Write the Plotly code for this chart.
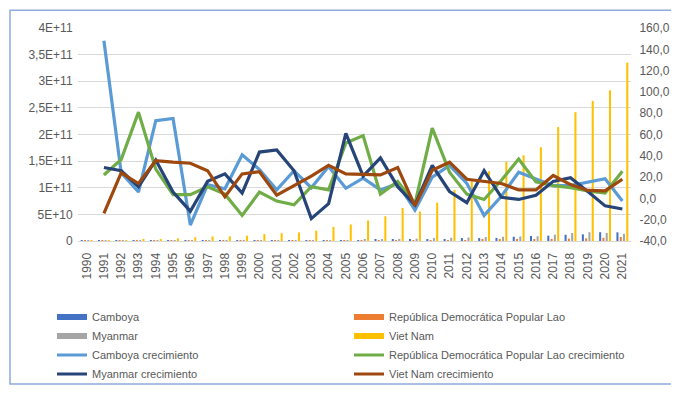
import plotly.graph_objects as go

years = [str(y) for y in range(1990, 2022)]

# Bar values (left axis), in units of 1e9
camboya = [0.2, 0.3, 0.3, 0.4, 0.5, 0.6, 0.6, 0.6, 0.6, 0.7, 0.7, 0.8, 0.9, 1.0, 1.2, 1.5,
           1.8, 2.3, 2.6, 2.5, 3.2, 3.8, 5.5, 5.5, 5.8, 8.0, 9.5, 10.0, 11.7, 12.5, 16.5, 16.3]
lao = [0.1, 0.1, 0.1, 0.1, 0.1, 0.1, 0.2, 0.2, 0.2, 0.2, 0.2, 0.2, 0.3, 0.3, 0.4, 0.5,
       0.6, 0.8, 1.0, 1.0, 1.2, 1.5, 1.8, 2.0, 2.5, 3.0, 3.0, 4.0, 4.5, 5.0, 6.0, 7.5]
myanmar = [0.1, 0.1, 0.1, 0.1, 0.2, 0.2, 0.2, 0.3, 0.3, 0.3, 0.4, 0.5, 1.0, 1.2, 1.5, 1.8,
           2.5, 3.5, 4.0, 4.5, 5.5, 6.0, 6.5, 7.5, 8.0, 8.5, 9.0, 12.0, 15.0, 16.5, 15.0, 13.5]
vietnam = [1.0, 1.2, 1.5, 2.5, 3.8, 5.0, 7.0, 8.5, 8.7, 10.0, 13.0, 14.8, 16.0, 19.5, 26.5, 31.0,
           38.5, 46.5, 62.0, 55.5, 72.0, 96.0, 112.0, 131.0, 149.0, 161.0, 176.0, 214.0, 242.0, 263.0, 283.0, 335.0]
BAR_UNIT = 1e9

# Growth lines (right axis)
camboya_crec = [None, 148, 24, 6, 73, 75, -25, 13, 9, 41, 27, 8, 26, 10, 30, 9.5,
                19, 8, 14, -11, 20, 31, 14, -16, 2, 24.5, 18, 12, 12, 15.5, 18.5, -2.5]
lao_crec = [None, 22, 36.5, 81, 27.5, 3.5, 3.5, 11, 4, -16, 6, -2.5, -6, 11, 8, 52,
            59, 4, 16, -5, 66, 24.5, 4, -1, 17, 37, 15.5, 12, 10, 7, 5, 25.5]
myanmar_crec = [None, 29, 26, 11, 36, 6, -12, 16, 23, 5, 43.5, 45.5, 26, -19, -5, 61,
                21, 38, 11, -6, 31, 6.5, -4, 26, 1, -1, 3, 16, 19.5, 6.5, -7, -10]
vietnam_crec = [None, -14, 24, 14, 35.5, 34, 33, 26, 1.5, 23, 25, 3, 12, 21, 31, 23,
                22.5, 22, 29, -7, 26.5, 34, 18, 16, 14, 8, 8, 21.5, 13, 7.5, 7, 18]

left_ticks = [0, 5e10, 1e11, 1.5e11, 2e11, 2.5e11, 3e11, 3.5e11, 4e11]
left_text = ["0", "5E+10", "1E+11", "1,5E+11", "2E+11", "2,5E+11", "3E+11", "3,5E+11", "4E+11"]
right_ticks = [-40, -20, 0, 20, 40, 60, 80, 100, 120, 140, 160]
right_text = ["-40,0", "-20,0", "0,0", "20,0", "40,0", "60,0", "80,0", "100,0", "120,0", "140,0", "160,0"]

names_bar = ["Camboya", "República Democrática Popular Lao", "Myanmar", "Viet Nam"]
bar_colors = ["#4472C4", "#ED7D31", "#A5A5A5", "#FFC000"]
names_line = ["Camboya crecimiento", "República Democrática Popular Lao crecimiento",
              "Myanmar crecimiento", "Viet Nam crecimiento"]
line_colors = ["#5B9BD5", "#70AD47", "#264478", "#9E480E"]

W, H = 679, 393
ML, MR, MT, MB = 70, 56, 20, 151
PW, PH = W - ML - MR, H - MT - MB

fig = go.Figure()
for name, vals, col in zip(names_bar, [camboya, lao, myanmar, vietnam], bar_colors):
    fig.add_trace(go.Bar(x=years, y=[v * BAR_UNIT for v in vals], name=name,
                         marker=dict(color=col, line=dict(width=0)), showlegend=False,
                         yaxis="y"))

for name, vals, col in zip(names_line, [camboya_crec, lao_crec, myanmar_crec, vietnam_crec], line_colors):
    fig.add_trace(go.Scatter(x=years, y=vals, name=name, mode="lines",
                             line=dict(color=col, width=3.2), yaxis="y2", showlegend=False))

# legend entries (Excel-style wide markers)
legend_of = {0: "legend", 1: "legend2", 2: "legend", 3: "legend2"}
for i, (name, col) in enumerate(zip(names_bar, bar_colors)):
    fig.add_trace(go.Scatter(x=[None], y=[None], name=name, mode="lines",
                             line=dict(color=col, width=6), legend=legend_of[i], yaxis="y2"))
for i, (name, col) in enumerate(zip(names_line, line_colors)):
    fig.add_trace(go.Scatter(x=[None], y=[None], name=name, mode="lines",
                             line=dict(color=col, width=3), legend=legend_of[i], yaxis="y2"))

font_col = "#595959"
leg_common = dict(orientation="v", xanchor="left", yanchor="top", bgcolor="rgba(0,0,0,0)",
                  tracegroupgap=0, font=dict(family="Liberation Sans", size=11, color=font_col),
                  itemwidth=30)

def px_to_paper_x(px):
    return (px - ML) / PW

def px_to_paper_y(py):
    return (H - MB - py) / PH

fig.update_layout(
    width=W, height=H,
    margin=dict(l=ML, r=MR, t=MT, b=MB, pad=0),
    paper_bgcolor="white", plot_bgcolor="white",
    barmode="group", bargap=0.24, bargroupgap=0.38,
    font=dict(family="Liberation Sans", size=12, color=font_col),
    xaxis=dict(type="category", tickangle=-90, showgrid=False, showline=True,
               linecolor="#D9D9D9", linewidth=1, ticks="outside", ticklen=6,
               tickcolor="rgba(0,0,0,0)", tickfont=dict(size=12, color=font_col)),
    yaxis=dict(range=[0, 4e11], tickvals=left_ticks, ticktext=left_text, showgrid=True,
               gridcolor="#D9D9D9", gridwidth=1, zeroline=False, showline=False,
               ticks="outside", ticklen=2, tickcolor="rgba(0,0,0,0)",
               tickfont=dict(size=12, color=font_col)),
    yaxis2=dict(range=[-40, 160], tickvals=right_ticks, ticktext=right_text, overlaying="y",
                side="right", showgrid=False, zeroline=False, showline=False,
                ticks="outside", ticklen=5, tickcolor="rgba(0,0,0,0)",
                tickfont=dict(size=12, color=font_col)),
    legend=dict(x=px_to_paper_x(44), y=px_to_paper_y(306), **leg_common),
    legend2=dict(x=px_to_paper_x(341), y=px_to_paper_y(306), **leg_common),
    shapes=[dict(type="rect", xref="paper", yref="paper",
                 x0=px_to_paper_x(2), x1=px_to_paper_x(672),
                 y0=px_to_paper_y(391), y1=px_to_paper_y(1.5),
                 line=dict(color="#8FAADC", width=1.5), fillcolor="rgba(0,0,0,0)", layer="below")],
)

fig.write_html("out.html")
